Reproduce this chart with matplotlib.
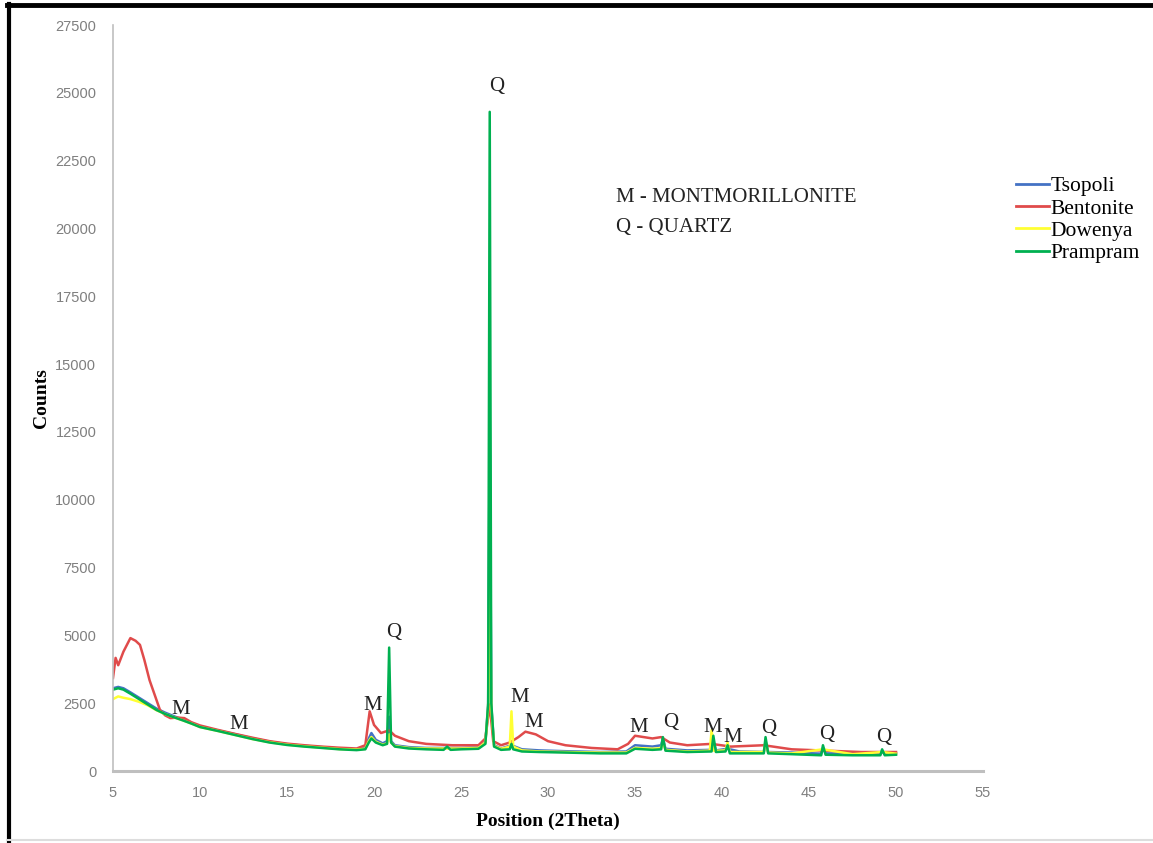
import matplotlib
matplotlib.use("Agg")
import matplotlib.pyplot as plt
from matplotlib.lines import Line2D

# ---------------- data ----------------
pram_x = [5.0, 5.3, 5.6, 6.0, 6.5, 7.0, 7.5, 8.0, 8.5, 9.0, 9.5, 10.0, 11.0, 12.0, 13.0, 14.0,
          15.0, 16.0, 17.0, 18.0, 19.0, 19.5, 19.7, 19.85, 20.1, 20.5, 20.75, 20.87, 20.98, 21.2,
          22.0, 23.0, 24.0, 24.2, 24.4, 25.0, 26.0, 26.4, 26.56, 26.65, 26.74, 26.9, 27.3, 27.8,
          27.9, 28.0, 28.5, 29.5, 31.0, 33.0, 34.5, 35.0, 36.0, 36.5, 36.6, 36.75, 38.0, 39.4,
          39.5, 39.65, 40.2, 40.32, 40.45, 42.4, 42.5, 42.65, 44.0, 45.7, 45.8, 45.95, 47.5, 49.1,
          49.2, 49.35, 50.0]
pram_y = [3000, 3050, 3000, 2850, 2650, 2450, 2250, 2100, 1980, 1870, 1750, 1620, 1480, 1330, 1180, 1050,
          960, 900, 850, 800, 770, 800, 1050, 1200, 1050, 950, 1000, 4550, 1050, 900,
          830, 800, 780, 900, 780, 800, 820, 1000, 2500, 24300, 2500, 900, 780, 800,
          1000, 800, 720, 700, 680, 650, 650, 820, 780, 800, 1250, 750, 700, 720,
          1300, 700, 720, 950, 650, 650, 1250, 650, 620, 580, 950, 600, 580, 580,
          800, 580, 600]

tsop_x = [5.0, 5.3, 5.6, 6.0, 6.5, 7.0, 7.5, 8.0, 8.5, 9.0, 9.5, 10.0, 11.0, 12.0, 13.0, 14.0,
          15.0, 16.0, 17.0, 18.0, 19.0, 19.5, 19.7, 19.85, 20.1, 20.5, 20.75, 20.87, 20.98, 21.2,
          22.0, 23.0, 25.0, 26.0, 26.4, 26.56, 26.65, 26.74, 26.9, 27.3, 27.9, 28.5, 29.5, 31.0,
          33.0, 34.5, 35.0, 36.0, 36.5, 36.6, 36.75, 38.0, 39.4, 39.5, 39.65, 40.32, 41.0, 42.4,
          42.5, 42.65, 44.0, 45.7, 45.8, 45.95, 47.5, 49.1, 49.2, 49.35, 50.0]
tsop_y = [3050, 3100, 3050, 2900, 2700, 2500, 2300, 2150, 2020, 1900, 1780, 1650, 1500, 1360, 1210, 1080,
          990, 930, 880, 830, 800, 850, 1200, 1400, 1150, 1020, 1100, 2000, 1100, 950,
          880, 850, 850, 870, 1050, 2400, 13000, 2400, 950, 830, 950, 800, 760, 730,
          700, 720, 950, 900, 950, 1200, 820, 760, 780, 1100, 760, 820, 720, 700,
          1100, 700, 680, 640, 850, 650, 640, 630, 700, 630, 650]

bent_x = [5.0, 5.15, 5.3, 5.6, 6.0, 6.3, 6.55, 6.8, 7.1, 7.4, 7.7, 8.0, 8.3, 8.7, 9.1, 9.5,
          10.0, 11.0, 12.0, 13.0, 14.0, 15.0, 16.0, 17.0, 18.0, 19.0, 19.5, 19.75, 20.0, 20.4,
          20.87, 21.2, 22.0, 23.0, 24.5, 26.0, 26.4, 26.65, 26.85, 27.3, 27.8, 28.3, 28.7, 29.3,
          30.0, 31.0, 32.5, 34.0, 34.6, 35.0, 36.0, 36.5, 37.0, 38.0, 39.4, 40.5, 42.4, 44.0,
          46.0, 48.0, 50.0]
bent_y = [3430, 4170, 3900, 4400, 4900, 4800, 4650, 4100, 3350, 2800, 2250, 2050, 1950, 1970, 1950, 1800,
          1680, 1520, 1370, 1230, 1100, 1010, 950, 900, 860, 830, 950, 2200, 1700, 1400,
          1500, 1300, 1100, 1000, 950, 950, 1200, 2450, 1100, 950, 1050, 1250, 1450, 1350,
          1100, 950, 850, 800, 1000, 1300, 1200, 1250, 1050, 950, 1000, 900, 950, 800,
          750, 700, 700]

dow_x = [5.0, 5.3, 5.6, 6.0, 6.5, 7.0, 7.5, 8.0, 8.5, 9.0, 9.5, 10.0, 11.0, 12.0, 13.0, 14.0,
         15.0, 16.0, 17.0, 18.0, 19.0, 19.5, 19.7, 19.85, 20.1, 20.5, 20.75, 20.87, 20.98, 21.2,
         22.0, 23.0, 25.0, 26.0, 26.4, 26.56, 26.65, 26.74, 26.9, 27.3, 27.8, 27.9, 28.0, 28.5,
         29.5, 31.0, 33.0, 34.5, 35.0, 36.0, 36.5, 36.6, 36.75, 38.0, 39.3, 39.4, 39.55, 40.2,
         40.32, 40.45, 42.4, 42.5, 42.65, 44.0, 45.8, 47.5, 49.2, 50.0]
dow_y = [2650, 2750, 2700, 2650, 2550, 2420, 2240, 2100, 1980, 1870, 1750, 1620, 1480, 1330, 1180, 1060,
         970, 910, 860, 810, 790, 820, 1100, 1250, 1080, 970, 1020, 1350, 1050, 920,
         850, 830, 830, 850, 1050, 2300, 7900, 2300, 920, 820, 900, 2200, 900, 760,
         720, 700, 680, 680, 850, 820, 840, 1100, 780, 720, 750, 1500, 740, 760,
         1050, 700, 700, 1100, 680, 650, 800, 620, 700, 640]

series = [("Tsopoli", tsop_x, tsop_y, "#4472C4"),
          ("Bentonite", bent_x, bent_y, "#E04B4B"),
          ("Dowenya", dow_x, dow_y, "#FFFF33"),
          ("Prampram", pram_x, pram_y, "#00B050")]

x_ticks = [5, 10, 15, 20, 25, 30, 35, 40, 45, 50, 55]
y_ticks = [0, 2500, 5000, 7500, 10000, 12500, 15000, 17500, 20000, 22500, 25000, 27500]

peak_labels = ["M", "M", "M", "Q", "Q", "M", "M", "M", "Q", "M", "M", "Q", "Q", "Q"]
peak_lab_x = [8.9, 12.2, 19.9, 21.15, 27.05, 28.4, 29.2, 35.2, 37.05, 39.45, 40.6, 42.7, 46.0, 49.3]
peak_lab_y = [2250, 1730, 2400, 5100, 25250, 2700, 1800, 1620, 1770, 1620, 1250, 1550, 1330, 1220]

# ---------------- figure ----------------
fig = plt.figure(figsize=(11.53, 8.43), dpi=100)
ax = fig.add_axes([0.098, 0.0854, 0.7546, 0.8849])

for name, xs, ys, col in series:
    ax.plot(xs, ys, color=col, lw=1.8, label=name, solid_joinstyle="round")

ax.set_xlim(5, 55)
ax.set_ylim(0, 27500)
ax.set_xticks(x_ticks)
ax.set_yticks(y_ticks)
ax.tick_params(axis="both", length=0, labelsize=10.5, colors="#7F7F7F")
ax.tick_params(axis="x", pad=11)
ax.tick_params(axis="y", pad=12)
for lab in ax.get_xticklabels() + ax.get_yticklabels():
    lab.set_fontfamily(["Liberation Sans Narrow", "Liberation Sans"])

for s in ["top", "right"]:
    ax.spines[s].set_visible(False)
ax.spines["left"].set_color("#BFBFBF")
ax.spines["left"].set_linewidth(1.2)
ax.spines["bottom"].set_color("#BFBFBF")
ax.spines["bottom"].set_linewidth(2.2)

serif = ["Liberation Serif", "DejaVu Serif"]
ax.set_xlabel("Position (2Theta)", fontfamily=serif, fontweight="bold", fontsize=14, labelpad=9)
ax.set_ylabel("Counts", fontfamily=serif, fontweight="bold", fontsize=14, labelpad=4)

for t, px, py in zip(peak_labels, peak_lab_x, peak_lab_y):
    ax.text(px, py, t, fontfamily=serif, fontsize=15, ha="center", va="center", color="#222222")

ax.text(0.578, 0.769, "M - MONTMORILLONITE", transform=ax.transAxes, fontfamily=serif,
        fontsize=15, va="center", ha="left", color="#222222")
ax.text(0.578, 0.729, "Q - QUARTZ", transform=ax.transAxes, fontfamily=serif,
        fontsize=15, va="center", ha="left", color="#222222")

leg = fig.legend(loc="upper left", bbox_to_anchor=(0.874, 0.801), frameon=False,
                 prop={"family": serif, "size": 15.5}, handlelength=1.5, handletextpad=0.1,
                 labelspacing=0.1, borderaxespad=0)
for h in leg.get_lines():
    h.set_linewidth(2.0)

# outer frame (black left & top, light bottom)
fig.add_artist(Line2D([0.0075, 0.0075], [0, 0.995], transform=fig.transFigure, color="black", lw=3))
fig.add_artist(Line2D([0.006, 1.0], [0.9935, 0.9935], transform=fig.transFigure, color="black", lw=3.5))
fig.add_artist(Line2D([0.006, 1.0], [0.003, 0.003], transform=fig.transFigure, color="#DDDDDD", lw=1.5))

fig.savefig("out.png", dpi=100)
